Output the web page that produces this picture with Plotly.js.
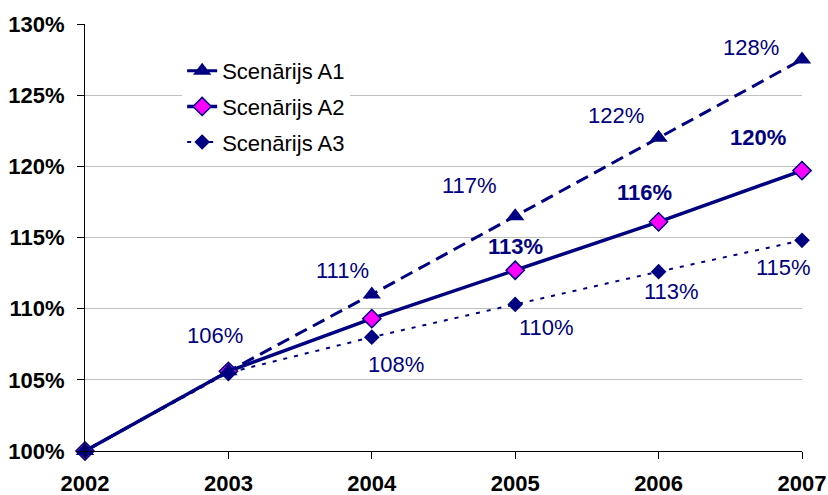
<!DOCTYPE html>
<html>
<head>
<meta charset="utf-8">
<script src="https://cdn.plot.ly/plotly-3.0.1.min.js"></script>
<style>
  html, body { margin: 0; padding: 0; background: #fff; }
  #chart { width: 828px; height: 495px; }
</style>
</head>
<body>
<div id="chart"></div>
<script>
const years = [2002, 2003, 2004, 2005, 2006, 2007];
const a1 = [100, 105.6, 111.0, 116.5, 122.0, 127.5];
const a2 = [100, 105.6, 109.3, 112.7, 116.1, 119.7];
const a3 = [100, 105.5, 108.0, 110.3, 112.6, 114.8];
const names = ['Scenārijs A1', 'Scenārijs A2', 'Scenārijs A3'];

// label offsets in px (null = no label)
const shiftA1 = [null, [-13, 36], [-29, 24], [-46, 31], [-43, 22], [-51, 12]];
const shiftA2 = [null, null, null, [0, 24], [-14, 29], [-44, 33]];
const shiftA3 = [null, null, [24, -27], [31, -23], [13, -20], [-19, -27]];

const navy = '#000080';
const font = 'Liberation Sans, Arial, sans-serif';

var data = [
    { x: years, y: a2, name: names[1], mode: 'lines+markers', legendgroup: 'a2', legendrank: 2,
      line: { color: navy, width: 3.5 },
      marker: { symbol: 'diamond', size: 14, color: '#FF00FF', line: { color: navy, width: 1.5 } },
      cliponaxis: false },
    { x: years, y: a1, name: names[0], mode: 'lines+markers', legendgroup: 'a1', legendrank: 1,
      line: { color: navy, width: 3, dash: '13px,7px' },
      marker: { symbol: 'triangle-up', size: 16, color: navy },
      cliponaxis: false },
    { x: years, y: a3, name: names[2], mode: 'lines+markers', legendgroup: 'a3', legendrank: 3,
      line: { color: navy, width: 2, dash: '4px,7px' },
      marker: { symbol: 'diamond', size: 12, color: navy },
      cliponaxis: false }
];

function labels(vals, shifts, bold) {
    var out = [];
    vals.forEach(function (v, i) {
        if (!shifts[i]) return;
        out.push({
            x: years[i], y: v, text: Math.round(v) + '%', showarrow: false,
            xshift: shifts[i][0], yshift: shifts[i][1],
            font: { family: font, size: 22, color: navy, weight: bold ? 'bold' : 'normal' }
        });
    });
    return out;
}

var layout = {
    width: 828, height: 495,
    margin: { l: 85, r: 26, t: 24, b: 44 },
    paper_bgcolor: '#fff', plot_bgcolor: '#fff',
    font: { family: font, size: 22, color: '#000' },
    showlegend: true,
    legend: { x: 0.1355, y: 0.939, xanchor: 'left', yanchor: 'top', bgcolor: '#fff',
              font: { family: font, size: 22, color: '#000' }, tracegroupgap: 4 },
    xaxis: {
        range: [2002, 2007], tickvals: years, showgrid: false, zeroline: false,
        showline: true, linecolor: '#000', linewidth: 1,
        ticks: 'outside', ticklen: 7, tickcolor: '#000', ticklabelstandoff: 6,
        tickfont: { family: font, size: 22, weight: 'bold', color: '#000' }
    },
    yaxis: {
        range: [100, 130], dtick: 5, ticksuffix: '%', zeroline: false,
        showgrid: true, gridcolor: '#c0c0c0', gridwidth: 1,
        showline: true, linecolor: '#000', linewidth: 1,
        ticks: 'outside', ticklen: 7, tickcolor: '#000', ticklabelstandoff: 8,
        tickfont: { family: font, size: 22, weight: 'bold', color: '#000' }
    },
    annotations: labels(a1, shiftA1, false)
        .concat(labels(a2, shiftA2, true))
        .concat(labels(a3, shiftA3, false))
};

Plotly.newPlot('chart', data, layout, { displayModeBar: false, staticPlot: true });
</script>
</body>
</html>
